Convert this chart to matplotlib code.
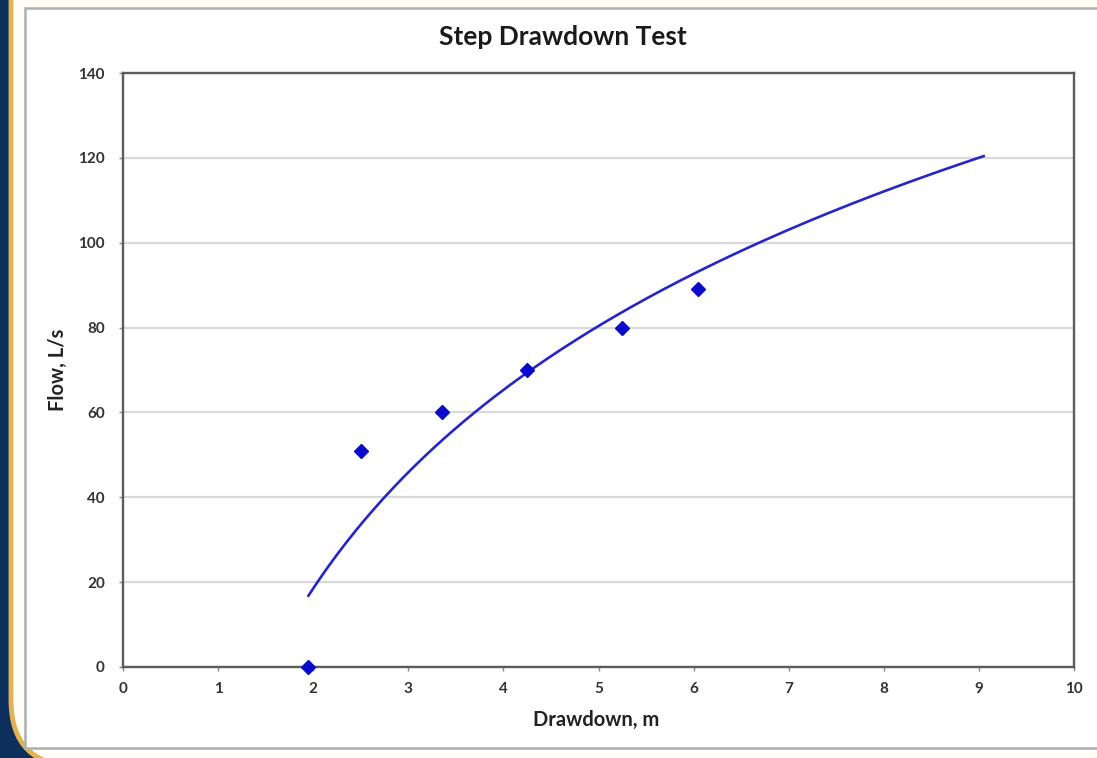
import numpy as np
import matplotlib
matplotlib.use("Agg")
import matplotlib.pyplot as plt
from matplotlib.patches import FancyBboxPatch, Rectangle

# Step drawdown test measurements
drawdown_m = [1.95, 2.5, 3.35, 4.25, 5.25, 6.05]
flow_lps = [0, 51, 60, 70, 80, 89]

x_ticks = [0, 1, 2, 3, 4, 5, 6, 7, 8, 9, 10]
y_ticks = [0, 20, 40, 60, 80, 100, 120, 140]

# Logarithmic trendline (least squares on ln x), forecast 3 m forward
forecast_forward = 3
coef = np.polyfit(np.log(drawdown_m), flow_lps, 1)
trend_x = np.linspace(min(drawdown_m), max(drawdown_m) + forecast_forward, 200)
trend_y = np.polyval(coef, np.log(trend_x))

W, H = 1097, 758
fig = plt.figure(figsize=(W / 100, H / 100), dpi=100)
fig.patch.set_facecolor("white")

# Slide frame: navy band with gold rim and a white panel
bg = fig.add_axes([0, 0, 1, 1], zorder=0)
bg.set_xlim(0, W)
bg.set_ylim(H, 0)
bg.axis("off")
bg.add_patch(Rectangle((0, 0), 90, H, facecolor="#0d2f5c", edgecolor="none"))
bg.add_patch(FancyBboxPatch((11, -200), 1300, 966, boxstyle="round,pad=0,rounding_size=66",
                            facecolor="#fffdf6", edgecolor="#e2b253", linewidth=3.5))
bg.add_patch(Rectangle((25, 8), 1200, 740, facecolor="white", edgecolor="#a9b1b1", linewidth=1.8))

font = ["Lato", "DejaVu Sans"]

ax = fig.add_axes([123 / W, 1 - 667 / H, (1074 - 123) / W, (667 - 73) / H], zorder=1)
ax.set_facecolor("white")

ax.plot(trend_x, trend_y, color="#2626c8", linewidth=1.9, zorder=3)
ax.plot(drawdown_m, flow_lps, linestyle="none", marker="D", markersize=7.5,
        color="#0a0acb", zorder=4, clip_on=False)

ax.set_xlim(0, 10)
ax.set_ylim(0, 140)
ax.set_xticks(x_ticks)
ax.set_yticks(y_ticks)
ax.grid(axis="y", color="#d9d9d9", linewidth=1.6)
ax.set_axisbelow(True)

for s in ax.spines.values():
    s.set_color("#5c5c5c")
    s.set_linewidth(1.7)

ax.tick_params(axis="both", direction="out", length=3, width=1, color="#8a8a8a",
               labelsize=11, labelcolor="#333333")
ax.tick_params(axis="y", pad=10)
ax.tick_params(axis="x", pad=8)
for lab in ax.get_xticklabels() + ax.get_yticklabels():
    lab.set_fontfamily(font)
    lab.set_fontweight("bold")

ax.set_xlabel("Drawdown, m", fontsize=14.5, fontweight="bold", family=font,
              color="#222222")
ax.set_ylabel("Flow, L/s", fontsize=14.5, fontweight="bold", family=font,
              color="#222222")
ax.xaxis.set_label_coords(0.498, -(720 - 667) / (667 - 73))
ax.yaxis.set_label_coords((58 - 123) / (1074 - 123), 0.5)
ax.xaxis.label.set_va("center")
ax.yaxis.label.set_va("center")

fig.text(563 / W, 1 - 37 / H, "Step Drawdown Test", ha="center", va="center",
         fontsize=19, fontweight="bold", family=font, color="#1a1a1a")

fig.savefig("out.png", dpi=100)
